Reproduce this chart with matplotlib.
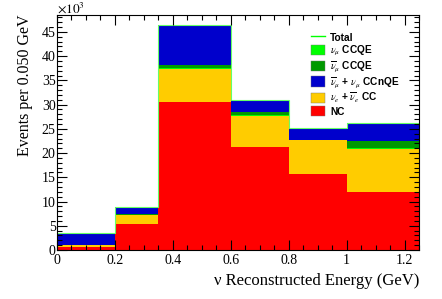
import numpy as np
import matplotlib
matplotlib.use("Agg")
import matplotlib.pyplot as plt
from matplotlib.patches import Patch
from matplotlib.lines import Line2D
from matplotlib.ticker import MultipleLocator

plt.rcParams['mathtext.fontset'] = 'stix'

# Bin edges (GeV)
bin_edges = [0.0, 0.2, 0.35, 0.6, 0.8, 1.0, 1.25]

# Stacked components (x10^3 events)
nc = [0.7, 5.4, 30.6, 21.2, 15.7, 12.0]
nue_cc = [0.25, 1.8, 6.8, 6.5, 6.9, 8.8]
numu_ccqe = [0.05, 0.1, 0.15, 0.1, 0.05, 0.2]
numubar_ccqe = [0.05, 0.1, 0.6, 0.7, 0.05, 1.4]
ccnqe = [2.4, 1.5, 8.35, 2.5, 2.4, 3.9]

series = [
    (nc, '#ff0000', 'NC'),
    (nue_cc, '#ffcc00', r'$\nu_{e}$ + $\overline{\nu}_{e}$ CC'),
    (numu_ccqe, '#00ff00', r'$\nu_{\mu}$ CCQE'),
    (numubar_ccqe, '#009900', r'$\overline{\nu}_{\mu}$ CCQE'),
    (ccnqe, '#0000cc', r'$\overline{\nu}_{\mu}$ + $\nu_{\mu}$ CCnQE'),
]

fig = plt.figure(figsize=(4.42, 2.99), dpi=100)
ax = fig.add_axes([0.129, 0.164, 0.819, 0.786])

edges = np.array(bin_edges)
lefts = edges[:-1]
widths = np.diff(edges)
bottom = np.zeros(len(lefts))
for vals, col, lab in series:
    v = np.array(vals)
    ax.bar(lefts, v, width=widths, bottom=bottom, align='edge', color=col,
           edgecolor='none', linewidth=0)
    bottom = bottom + v

total = bottom
ax.stairs(total, edges, color='#66ff66', linewidth=0.8, baseline=None)

ax.set_xlim(0, 1.25)
ax.set_ylim(0, 48.5)
ax.xaxis.set_major_locator(MultipleLocator(0.2))
ax.xaxis.set_minor_locator(MultipleLocator(0.05))
ax.yaxis.set_major_locator(MultipleLocator(5))
ax.yaxis.set_minor_locator(MultipleLocator(1))
ax.tick_params(which='both', direction='in', top=True, right=True, width=0.8)
ax.tick_params(which='major', length=7)
ax.tick_params(which='minor', length=3.5)
ax.set_xticks([0, 0.2, 0.4, 0.6, 0.8, 1.0, 1.2])
ax.set_xticklabels(['0', '0.2', '0.4', '0.6', '0.8', '1', '1.2'])

for lab in ax.get_xticklabels() + ax.get_yticklabels():
    lab.set_fontfamily('Liberation Serif')
    lab.set_fontsize(10)
ax.tick_params(axis='x', pad=3)
ax.tick_params(axis='y', pad=1)

ax.set_xlabel('ν Reconstructed Energy (GeV)', fontfamily='Liberation Serif',
              fontsize=12, loc='right', labelpad=4)
ax.set_ylabel('Events per 0.050 GeV', fontfamily='Liberation Serif',
              fontsize=11.5, loc='top', labelpad=6)
fig.text(0.129, 0.998, r'$\times 10^{3}$', fontsize=9.5, ha='left', va='top')

handles = [Line2D([0], [0], color='#00ff00', lw=1.0)]
labels = ['Total']
order = [2, 3, 4, 1, 0]
for i in order:
    vals, col, lab = series[i]
    handles.append(Patch(facecolor=col, edgecolor='#777777', linewidth=0.3))
    labels.append(lab)
leg = ax.legend(handles, labels, loc='upper left', bbox_to_anchor=(0.69, 0.945),
                frameon=False, prop={'family': 'Liberation Sans', 'weight': 'bold', 'size': 7.3},
                handlelength=1.4, handleheight=1.2, labelspacing=0.12, handletextpad=0.5,
                borderaxespad=0)

fig.savefig('out.png', dpi=100)
